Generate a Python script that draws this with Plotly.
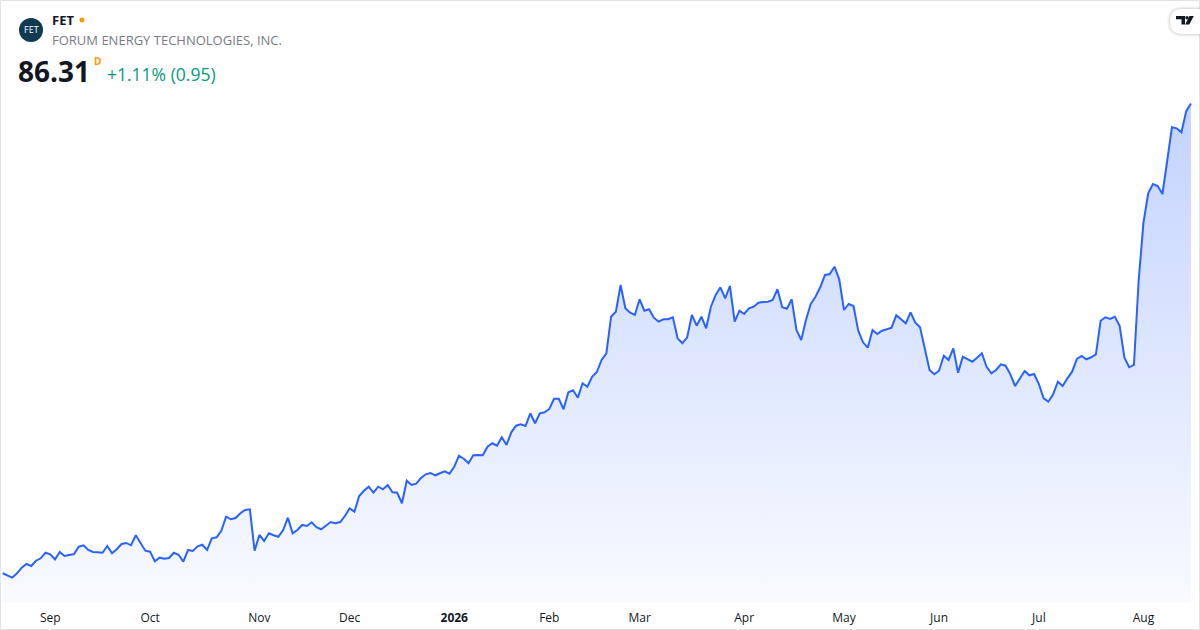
import pandas as pd
import plotly.graph_objects as go

# trading calendar (NYSE holidays inside the window)
holidays = ["2025-09-01", "2025-11-27", "2025-12-25", "2026-01-01", "2026-01-19",
            "2026-02-16", "2026-04-03", "2026-05-25", "2026-06-19", "2026-07-03"]
dates = pd.bdate_range("2025-08-18", "2026-08-17", freq="C", holidays=holidays).strftime("%Y-%m-%d").tolist()

# daily closes
close_2025 = [
    27.59, 27.34, 27.04, 27.59, 28.29, 28.75, 28.50, 29.16, 29.46, 30.16,
    29.96, 29.34, 30.25, 29.75, 29.88, 30.00, 30.91, 31.09, 30.50, 30.25,
    30.21, 30.16, 31.00, 30.09, 30.59, 31.25, 31.38, 31.09, 32.34, 31.41,
    30.41, 30.29, 29.09, 29.54, 29.41, 29.50, 30.16, 29.91, 29.04, 30.50,
    30.38, 30.96, 31.16, 30.50, 31.96, 32.09, 32.91, 34.66, 34.34, 34.50,
    35.09, 35.50, 35.59, 30.41, 32.38, 31.63, 32.59, 32.34, 32.16, 33.00,
    34.54, 32.59, 33.00, 33.63, 33.50, 33.96, 33.34, 33.09, 33.50, 34.00,
    33.84, 34.00, 34.75, 35.71, 35.29, 37.25, 37.91, 38.41, 37.66, 38.41,
    38.09, 38.63, 37.71, 37.66, 36.34, 39.16, 38.63, 38.79, 39.50, 39.96,
    40.13, 39.84, 40.09, 40.34, 40.04,
]
close_2026 = [
    40.91, 42.29, 41.91, 41.34, 42.34, 42.38, 42.34, 43.41, 43.84, 43.54,
    44.59, 43.63, 45.21, 46.04, 46.21, 46.00, 47.59, 46.34, 47.59, 47.71,
    48.13, 49.41, 49.41, 48.09, 50.21, 50.46, 49.54, 51.34, 50.91, 52.16,
    52.75, 54.25, 55.09, 59.66, 60.29, 63.63, 60.71, 60.16, 59.88, 61.84,
    60.41, 60.59, 59.54, 59.04, 59.34, 59.34, 59.59, 56.96, 56.34, 57.09,
    59.88, 58.54, 59.66, 58.21, 60.91, 62.38, 63.34, 61.96, 63.50, 59.04,
    60.41, 60.00, 60.71, 60.91, 61.41, 61.50, 61.54, 61.75, 63.09, 60.84,
    60.66, 61.84, 58.00, 56.75, 59.25, 61.25, 62.16, 63.34, 64.88, 65.00,
    65.91, 64.34, 60.50, 61.25, 61.00, 57.91, 56.46, 55.79, 58.00, 57.50,
    57.91, 58.09, 58.29, 59.84, 59.34, 58.84, 60.21, 58.91, 58.34, 55.59,
    53.00, 52.46, 52.91, 54.79, 54.25, 55.71, 52.66, 54.66, 54.34, 54.04,
    54.54, 55.09, 53.41, 52.59, 53.00, 53.71, 53.54, 52.46, 51.00, 51.88,
    52.88, 52.34, 52.50, 51.25, 49.46, 49.04, 49.96, 51.54, 51.00, 51.96,
    52.79, 54.38, 54.75, 54.34, 54.59, 54.96, 59.16, 59.59, 59.38, 59.66,
    58.50, 54.54, 53.34, 53.63, 64.25, 71.38, 75.09, 76.25, 76.00, 75.00,
    79.13, 83.34, 83.21, 82.71, 85.36, 86.31,
]
closes = close_2025 + close_2026

tick_dates = ["2025-09-02", "2025-10-01", "2025-11-03", "2025-12-01", "2026-01-02", "2026-02-02",
              "2026-03-02", "2026-04-01", "2026-05-01", "2026-06-01", "2026-07-01", "2026-08-03"]
tick_labels = ["Sep", "Oct", "Nov", "Dec", "<b>2026</b>", "Feb",
               "Mar", "Apr", "May", "Jun", "Jul", "Aug"]

ticker = "FET"
company = "FORUM ENERGY TECHNOLOGIES, INC."
last_price = "86.31"
change_text = "+1.11% (0.95)"

W, H, PLOT_H = 1200, 630, 603
y_lo, y_hi = 23.875, 99.25


def px(x):
    return x / W


def py(y):
    return (PLOT_H - y) / PLOT_H


def pill(x0, y0, y1, grow):
    # left-rounded badge running off the right edge
    r = (y1 - y0) / 2 + grow
    top, bot = y0 - grow, y1 + grow
    left = x0 - grow
    return "M %f %f L %f %f Q %f %f %f %f Q %f %f %f %f L %f %f Z" % (
        px(1200), py(top), px(left + r), py(top), px(left), py(top), px(left), py(top + r),
        px(left), py(bot), px(left + r), py(bot), px(1200), py(bot))


fig = go.Figure()
fig.add_trace(go.Scatter(
    x=dates, y=closes, mode="lines",
    line=dict(color="#2962ff", width=2),
    fill="tozeroy",
    fillgradient=dict(type="vertical", start=y_lo, stop=max(closes),
                      colorscale=[[0, "rgba(41,98,255,0.03)"], [1, "rgba(41,98,255,0.28)"]]),
    hoverinfo="skip",
))

fig.update_layout(
    width=W, height=H,
    margin=dict(l=0, r=0, t=0, b=H - PLOT_H),
    paper_bgcolor="white", plot_bgcolor="white",
    showlegend=False,
    font=dict(family="Open Sans", color="#131722"),
    xaxis=dict(type="category", range=[-0.57, 251.9], showgrid=False, zeroline=False,
               showline=False, tickmode="array", tickvals=tick_dates, ticktext=tick_labels,
               tickfont=dict(size=12, color="#131722"), ticks="", ticklabelstandoff=6),
    yaxis=dict(range=[y_lo, y_hi], showgrid=False, zeroline=False, showticklabels=False,
               showline=False),
)

# outer frame
fig.add_shape(type="rect", xref="paper", yref="paper", x0=px(0.5), x1=px(1199.5),
              y0=py(629.5), y1=py(0.5), line=dict(color="#e0e3eb", width=1), layer="above")

# header: logo, ticker, name, price
fig.add_shape(type="circle", xref="paper", yref="paper", x0=px(19), x1=px(43), y0=py(42), y1=py(18),
              fillcolor="#0e3b52", line=dict(width=0))
fig.add_annotation(x=px(31), y=py(30), xref="paper", yref="paper", text="FET", showarrow=False,
                   font=dict(size=9, color="white", family="Open Sans"), xanchor="center", yanchor="middle")
fig.add_annotation(x=px(50), y=py(20), xref="paper", yref="paper", text="<b>" + ticker + "</b>",
                   showarrow=False, font=dict(size=13, color="#131722"), xanchor="left", yanchor="middle")
fig.add_shape(type="circle", xref="paper", yref="paper", x0=px(79.5), x1=px(84.5), y0=py(22.5), y1=py(17.5),
              fillcolor="#ff9800", line=dict(width=0))
fig.add_annotation(x=px(50), y=py(40), xref="paper", yref="paper", text=company, showarrow=False,
                   font=dict(size=13, color="#787b86"), xanchor="left", yanchor="middle")
fig.add_annotation(x=px(16), y=py(71), xref="paper", yref="paper", text="<b>" + last_price + "</b>",
                   showarrow=False, font=dict(size=28, color="#131722"), xanchor="left", yanchor="middle")
fig.add_annotation(x=px(92), y=py(61), xref="paper", yref="paper", text="<b>D</b>", showarrow=False,
                   font=dict(size=10, color="#ff9800"), xanchor="left", yanchor="middle")
fig.add_annotation(x=px(105), y=py(74), xref="paper", yref="paper", text=change_text, showarrow=False,
                   font=dict(size=17.5, color="#089981"), xanchor="left", yanchor="middle")

# TradingView badge with a soft shadow
for grow, shade in [(3, "rgba(19,23,34,0.03)"), (2, "rgba(19,23,34,0.04)"), (1, "rgba(19,23,34,0.06)")]:
    fig.add_shape(type="path", xref="paper", yref="paper", path=pill(1170, 9, 34, grow),
                  fillcolor=shade, line=dict(width=0))
fig.add_shape(type="path", xref="paper", yref="paper", path=pill(1170, 9, 34, 0),
              fillcolor="white", line=dict(width=0))
fig.add_shape(type="path", xref="paper", yref="paper",
              path="M %f %f L %f %f L %f %f L %f %f L %f %f L %f %f Z" % (
                  px(1176), py(16), px(1185), py(16), px(1185), py(24.5), px(1181.5), py(24.5),
                  px(1181.5), py(19.3), px(1176), py(19.3)),
              fillcolor="#131722", line=dict(width=0))
fig.add_shape(type="circle", xref="paper", yref="paper", x0=px(1185.3), x1=px(1188.7), y0=py(19.4), y1=py(16),
              fillcolor="#131722", line=dict(width=0))
fig.add_shape(type="path", xref="paper", yref="paper",
              path="M %f %f L %f %f L %f %f L %f %f Z" % (
                  px(1189.5), py(16), px(1193.8), py(16), px(1189.3), py(24.5), px(1185.2), py(24.5)),
              fillcolor="#131722", line=dict(width=0))

fig.write_html("out.html", config={"displayModeBar": False},
               post_script="document.body.style.margin='0';document.body.style.overflow='hidden';")
